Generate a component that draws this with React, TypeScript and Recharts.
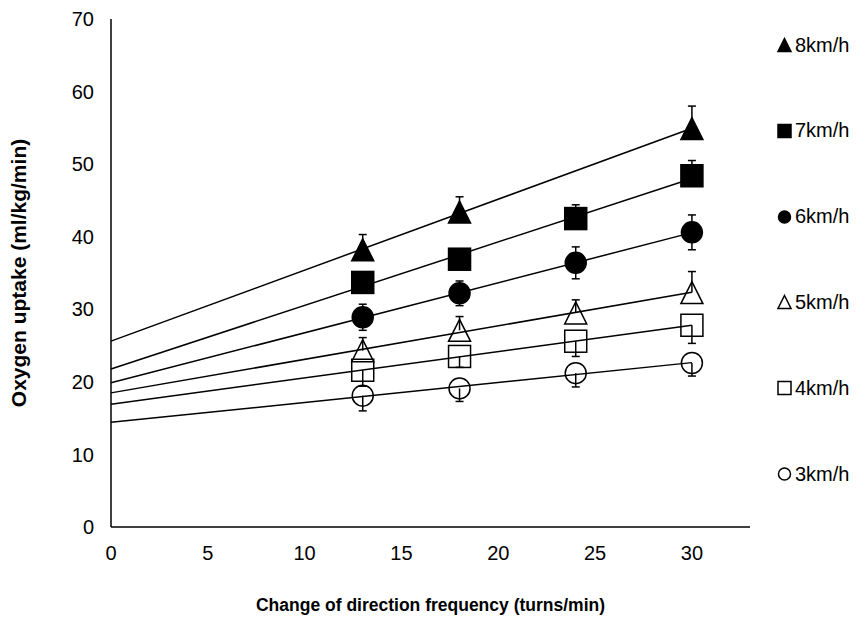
import React from "react";
import {
  ScatterChart,
  Scatter,
  XAxis,
  YAxis,
  ErrorBar,
  ReferenceLine,
  Label,
} from "recharts";

// Change of direction frequency (turns/min)
const freq = [13, 18, 24, 30];
const freq8 = [13, 18, 30]; // 8km/h has no point at 24

// Oxygen uptake (ml/kg/min) per running speed
const uptake8 = [38.2, 43.4, 54.9];
const uptake7 = [33.7, 36.9, 42.5, 48.4];
const uptake6 = [28.9, 32.2, 36.4, 40.6];
const uptake5 = [24.3, 27.1, 29.5, 32.3];
const uptake4 = [21.6, 23.5, 25.6, 27.8];
const uptake3 = [18.1, 19.1, 21.2, 22.6];

// error bars (down, up)
const errDown8 = [0, 0, 0];
const errUp8 = [2.1, 2.1, 3.1];
const errDown7 = [0, 0, 0, 0];
const errUp7 = [1.0, 1.0, 1.9, 2.1];
const errDown6 = [1.8, 1.7, 2.2, 2.4];
const errUp6 = [1.8, 1.7, 2.2, 2.4];
const errDown5 = [0, 0, 0, 0];
const errUp5 = [1.8, 1.9, 1.8, 2.9];
const errDown4 = [2.2, 1.5, 2.1, 2.5];
const errUp4 = [0, 0, 0, 0];
const errDown3 = [2.1, 1.8, 1.9, 1.8];
const errUp3 = [0, 0, 0, 0];

const xTicks = [0, 5, 10, 15, 20, 25, 30];
const yTicks = [0, 10, 20, 30, 40, 50, 60, 70];

type Kind = "triangle" | "square" | "circle";

const series = [
  { name: "8km/h", xs: freq8, ys: uptake8, lo: errDown8, hi: errUp8, kind: "triangle" as Kind, filled: true },
  { name: "7km/h", xs: freq, ys: uptake7, lo: errDown7, hi: errUp7, kind: "square" as Kind, filled: true },
  { name: "6km/h", xs: freq, ys: uptake6, lo: errDown6, hi: errUp6, kind: "circle" as Kind, filled: true },
  { name: "5km/h", xs: freq, ys: uptake5, lo: errDown5, hi: errUp5, kind: "triangle" as Kind, filled: false },
  { name: "4km/h", xs: freq, ys: uptake4, lo: errDown4, hi: errUp4, kind: "square" as Kind, filled: false },
  { name: "3km/h", xs: freq, ys: uptake3, lo: errDown3, hi: errUp3, kind: "circle" as Kind, filled: false },
];

// linear trendline like Excel's
function fit(xs: number[], ys: number[]) {
  const n = xs.length;
  const mx = xs.reduce((a, b) => a + b, 0) / n;
  const my = ys.reduce((a, b) => a + b, 0) / n;
  let sxy = 0;
  let sxx = 0;
  xs.forEach((x, i) => {
    sxy += (x - mx) * (ys[i] - my);
    sxx += (x - mx) * (x - mx);
  });
  const slope = sxy / sxx;
  return { slope, intercept: my - slope * mx };
}

function Mark({ cx, cy, kind, filled, markSize }: any) {
  if (cx == null || cy == null) return null;
  const size = markSize;
  const s = size / 2;
  const fill = filled ? "#000" : "none";
  if (kind === "triangle") {
    return (
      <path
        d={`M${cx},${cy - s}L${cx + s},${cy + s}L${cx - s},${cy + s}Z`}
        fill={fill}
        stroke="#000"
        strokeWidth={1.5}
      />
    );
  }
  if (kind === "square") {
    return (
      <rect x={cx - s} y={cy - s} width={size} height={size} fill={fill} stroke="#000" strokeWidth={1.5} />
    );
  }
  return <circle cx={cx} cy={cy} r={s - 0.5} fill={fill} stroke="#000" strokeWidth={1.5} />;
}

function Cap({ cx, cy }: any) {
  if (cx == null || cy == null) return null;
  return <line x1={cx - 4} x2={cx + 4} y1={cy} y2={cy} stroke="#000" strokeWidth={1.5} />;
}

const font = "'Liberation Sans', Arial, sans-serif";

export default function App() {
  const caps: { x: number; y: number }[] = [];
  series.forEach((s) =>
    s.xs.forEach((x, i) => {
      if (s.hi[i] > 0) caps.push({ x, y: s.ys[i] + s.hi[i] });
      if (s.lo[i] > 0) caps.push({ x, y: s.ys[i] - s.lo[i] });
    })
  );

  return (
    <div style={{ position: "absolute", left: 0, top: 0, width: 859, height: 623, background: "#fff", fontFamily: font }}>
      <ScatterChart width={859} height={623} margin={{ top: 19, right: 109, bottom: 0, left: 0 }}>
        <XAxis
          type="number"
          dataKey="x"
          domain={[0, 33]}
          ticks={xTicks}
          allowDataOverflow
          tickLine={false}
          tickSize={0}
          tickMargin={19}
          height={96}
          axisLine={{ stroke: "#000", strokeWidth: 1.5 }}
          tick={{ fill: "#000", fontSize: 20, fontFamily: font }}
        >
          <Label
            value="Change of direction frequency (turns/min)"
            position="insideBottom"
            offset={12}
            style={{ fill: "#000", fontSize: 17.5, fontWeight: "bold", fontFamily: font }}
          />
        </XAxis>
        <YAxis
          type="number"
          dataKey="y"
          domain={[0, 70]}
          ticks={yTicks}
          width={111}
          tickLine={false}
          tickSize={0}
          tickMargin={17}
          axisLine={{ stroke: "#000", strokeWidth: 1.5 }}
          tick={{ fill: "#000", fontSize: 20, fontFamily: font }}
        >
          <Label
            value="Oxygen uptake (ml/kg/min)"
            angle={-90}
            position="insideLeft"
            offset={19}
            style={{ textAnchor: "middle", fill: "#000", fontSize: 21, fontWeight: "bold", fontFamily: font }}
          />
        </YAxis>

        {series.map((s) => {
          const { slope, intercept } = fit(s.xs, s.ys);
          const xEnd = s.xs[s.xs.length - 1];
          return (
            <ReferenceLine
              key={"t" + s.name}
              segment={[
                { x: 0, y: intercept },
                { x: xEnd, y: intercept + slope * xEnd },
              ]}
              stroke="#000"
              strokeWidth={1.5}
              ifOverflow="visible"
            />
          );
        })}

        <Scatter data={caps} isAnimationActive={false} shape={(p: any) => <Cap {...p} />} />

        {series.map((s) => (
          <Scatter
            key={s.name}
            name={s.name}
            data={s.xs.map((x, i) => ({ x, y: s.ys[i], err: [s.lo[i], s.hi[i]] }))}
            isAnimationActive={false}
            shape={(p: any) => <Mark cx={p.cx} cy={p.cy} kind={s.kind} filled={s.filled} markSize={22} />}
          >
            <ErrorBar dataKey="err" direction="y" width={0} stroke="#000" strokeWidth={1.5} isAnimationActive={false} />
          </Scatter>
        ))}
      </ScatterChart>

      {/* legend, stacked down the right side */}
      <div style={{ position: "absolute", left: 776, top: 45, width: 83 }}>
        {series.map((s, i) => (
          <div
            key={s.name}
            style={{
              position: "absolute",
              top: i * 85.8 - 12,
              left: 0,
              height: 24,
              display: "flex",
              alignItems: "center",
              fontSize: 20,
              color: "#000",
              whiteSpace: "nowrap",
            }}
          >
            <svg width={17} height={16} style={{ marginRight: 2 }}>
              <Mark cx={8.5} cy={8} kind={s.kind} filled={s.filled} markSize={13} />
            </svg>
            <span>{s.name}</span>
          </div>
        ))}
      </div>
    </div>
  );
}
